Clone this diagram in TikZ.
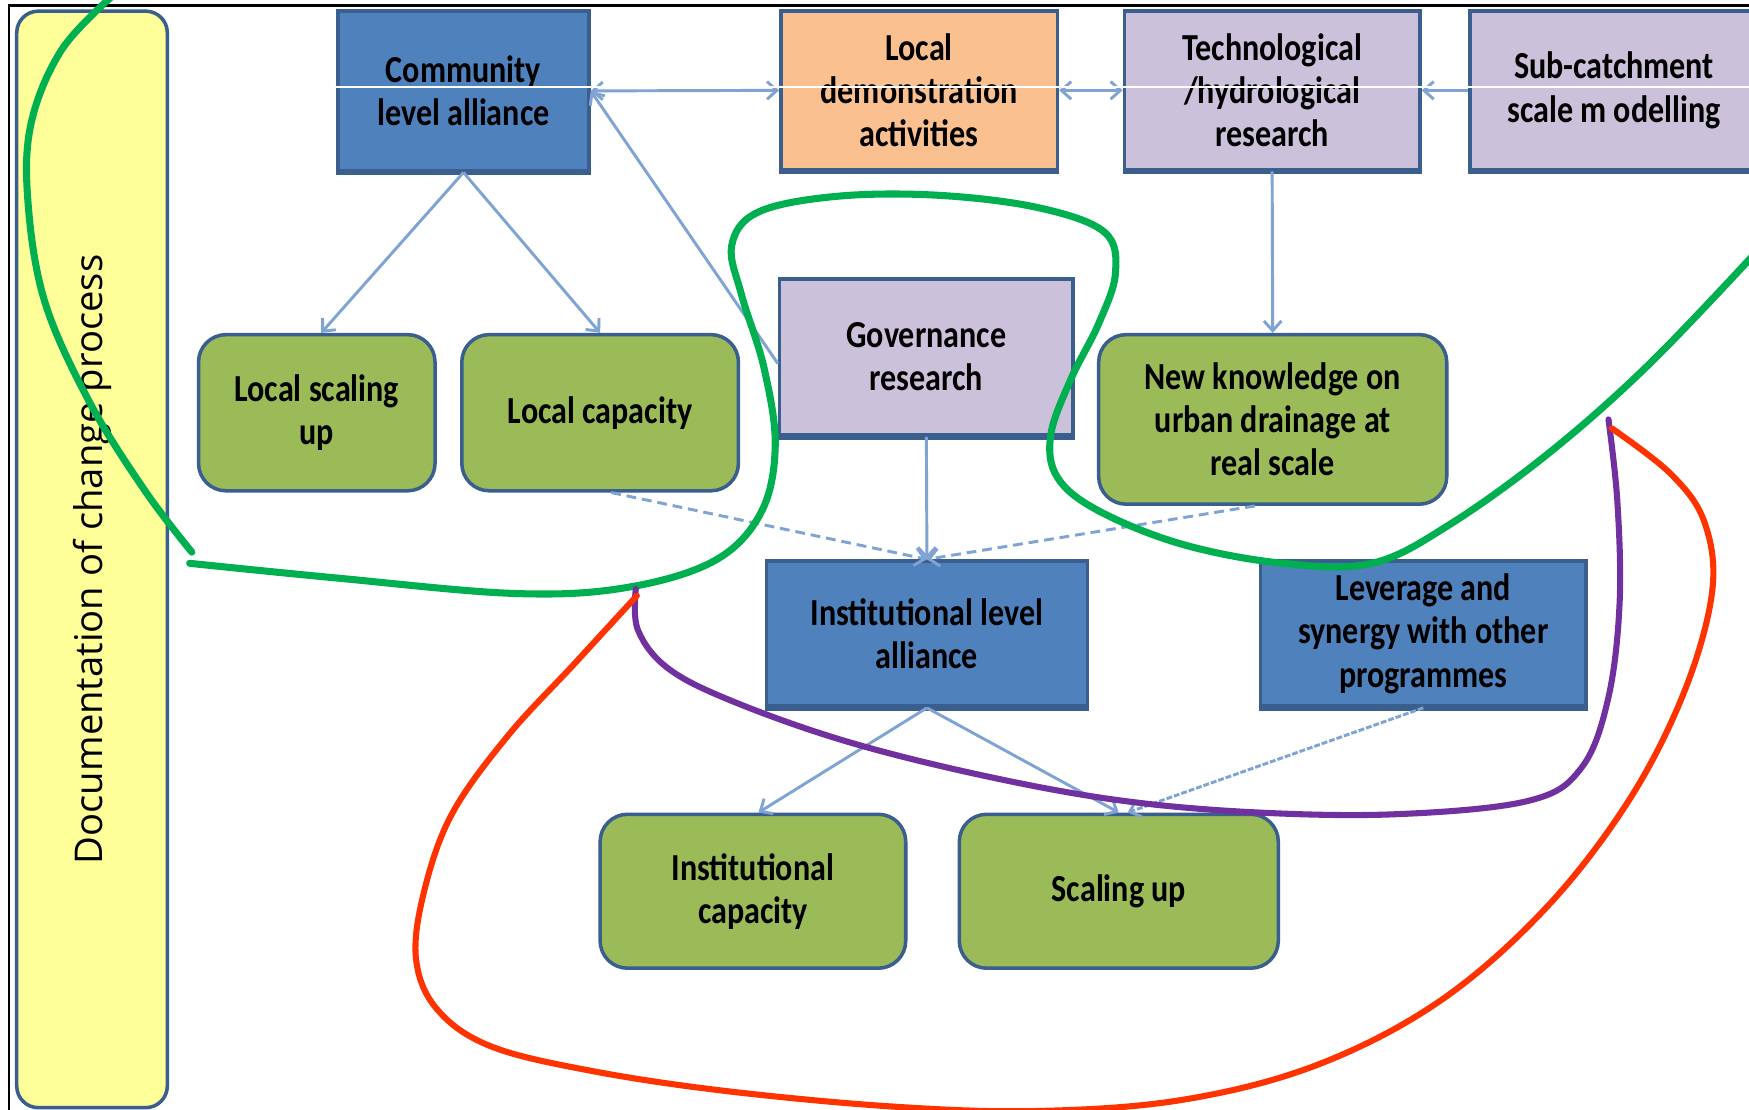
\documentclass[tikz,border=0pt]{standalone}
\usepackage{fontspec}
\setmainfont{Carlito}
\newfontfamily\boxfont{Carlito}[FakeStretch=0.84]
\newfontfamily\sidefont{Open Sans}
\usetikzlibrary{arrows.meta}
\definecolor{bluebox}{HTML}{4F81BD}
\definecolor{boxborder}{HTML}{3A5F8E}
\definecolor{peach}{HTML}{FAC090}
\definecolor{lav}{HTML}{CCC1DA}
\definecolor{greenbox}{HTML}{9BBB59}
\definecolor{yel}{HTML}{FFFF99}
\definecolor{conncol}{HTML}{7FA4D4}
\definecolor{pengreen}{HTML}{00B050}
\definecolor{penpurple}{HTML}{7030A0}
\definecolor{penred}{HTML}{FF3300}
\begin{document}
\begin{tikzpicture}[x=0.02cm,y=-0.02cm,
  >={Straight Barb[length=5pt,width=9pt]},
  box/.style={draw=boxborder, line width=1.8pt, align=center, inner sep=0pt, text=black,
    font=\boxfont\bfseries\fontsize{19.5pt}{22.1pt}\selectfont},
  sqbox/.style={box, rectangle},
  rdbox/.style={box, rectangle, rounded corners=14pt},
  sz/.style 2 args={minimum width=#1*0.02cm, minimum height=#2*0.02cm},
  shadowedge/.style={draw=boxborder, line width=2.8pt},
  conn/.style={draw=conncol, line width=1.5pt},
  dconn/.style={conn, dash pattern=on 5pt off 3pt},
  ddconn/.style={conn, dash pattern=on 3pt off 1pt},
  pen/.style={line width=3.6pt, line cap=round, line join=round},
  thinpen/.style={pen, line width=3.1pt},
  artefact/.style={draw=white, line width=0.6pt}
]
\useasboundingbox (0,0) rectangle (1568,995);
\fill[white] (0,0) rectangle (1568,995);
% frame
\draw[line width=1.2pt] (8,995) -- (8,5) -- (1568,5);
% side bar
\node[draw=boxborder, line width=1.8pt, fill=yel, rounded corners=11pt, rotate=90,
  minimum width=983*0.02cm, minimum height=135*0.02cm, inner sep=0pt,
  font=\sidefont\fontsize{19.5pt}{23pt}\selectfont] (doc) at (82.5,501.5) {Documentation of change process};
% boxes
\node[sqbox, fill=bluebox, sz={225}{143}] (comm) at (415.5,81.5) {Community\\level alliance};
\node[sqbox, fill=peach, sz={248}{142}] (demo) at (824,81) {Local\\demonstration\\activities};
\node[sqbox, fill=lav, sz={265}{142}] (tech) at (1140.5,81) {Technological\\/hydrological\\research};
\node[sqbox, fill=lav, sz={258}{142}] (sub) at (1447,81) {Sub-catchment\\scale m odelling};
\node[sqbox, fill=lav, sz={263}{140}] (gov) at (830.5,320) {Governance\\research};
\node[rdbox, fill=greenbox, sz={212}{140}] (lsu) at (284,370) {Local scaling\\up};
\node[rdbox, fill=greenbox, sz={248}{140}] (lcap) at (538,370) {Local capacity};
\node[rdbox, fill=greenbox, sz={312}{152}] (newk) at (1141,376) {New knowledge on\\urban drainage at\\real scale};
\node[sqbox, fill=bluebox, sz={288}{130}] (inst) at (831,568) {Institutional level\\alliance};
\node[sqbox, fill=bluebox, sz={292}{130}] (lev) at (1276,568) {Leverage and\\synergy with other\\programmes};
\node[rdbox, fill=greenbox, sz={274}{138}] (icap) at (675,799) {Institutional\\capacity};
\node[rdbox, fill=greenbox, sz={286}{138}] (sup) at (1003,799) {Scaling up};
% darker lower edges of the square boxes
\foreach \n in {comm,demo,tech,sub,gov,inst,lev}
  \draw[shadowedge] (\n.south west) -- (\n.south east);
% connectors
\draw[conn, <->] (comm.east) -- (demo.west);
\draw[conn, <->] (demo.east) -- (tech.west);
\draw[conn, ->] (sub.west) -- (tech.east);
\draw[conn, ->] ([yshift=-6*0.02cm]gov.west) -- (comm.east);
\draw[conn, ->] (comm.south) -- ([xshift=4*0.02cm]lsu.north);
\draw[conn, ->] (comm.south) -- (lcap.north);
\draw[conn, ->] (tech.south) -- (newk.north);
\draw[conn, ->] (gov.south) -- (inst.north);
\draw[dconn, ->] ([xshift=10*0.02cm]lcap.south) -- (inst.north);
\draw[dconn, ->] ([xshift=-16*0.02cm]newk.south) -- (inst.north);
\draw[conn, ->] (inst.south) -- ([xshift=5*0.02cm]icap.north);
\draw[conn, ->] (inst.south) -- (sup.north);
\draw[ddconn, ->] (lev.south) -- ([xshift=8*0.02cm]sup.north);
% scan artefact line
\draw[artefact] (300,78) -- (1568,78);
% hand-drawn pen strokes
\draw[pen, pengreen] plot[smooth, tension=0.6] coordinates {(100,-3) (55,45) (28,110) (25,180) (40,270) (80,360) (130,440) (172,495)};
\draw[pen, pengreen] plot[smooth, tension=0.6] coordinates {(170,505) (300,518) (460,532) (560,527) (640,503) (682,460) (695,400) (685,330) (665,265) (656,220) (680,190) (750,176) (840,175) (930,186) (990,208) (1000,245) (985,290) (960,340) (942,390) (948,428) (985,458) (1060,488) (1150,505) (1230,505) (1300,470) (1390,405) (1480,325) (1580,220)};
\draw[thinpen, penpurple] plot[smooth, tension=0.6] coordinates {(570,528) (572,565) (600,600) (660,630) (760,665) (880,695) (1000,717) (1120,728) (1250,730) (1370,718) (1418,688) (1442,625) (1452,540) (1450,450) (1442,376)};
\draw[thinpen, penred] plot[smooth, tension=0.6] coordinates {(571,534) (515,595) (455,660) (405,730) (380,800) (373,860) (392,905) (440,938) (530,960) (650,978) (800,992) (930,996) (1060,986) (1180,955) (1290,898) (1385,815) (1460,718) (1510,620) (1535,530) (1528,468) (1498,425) (1445,384)};
\end{tikzpicture}
\end{document}
